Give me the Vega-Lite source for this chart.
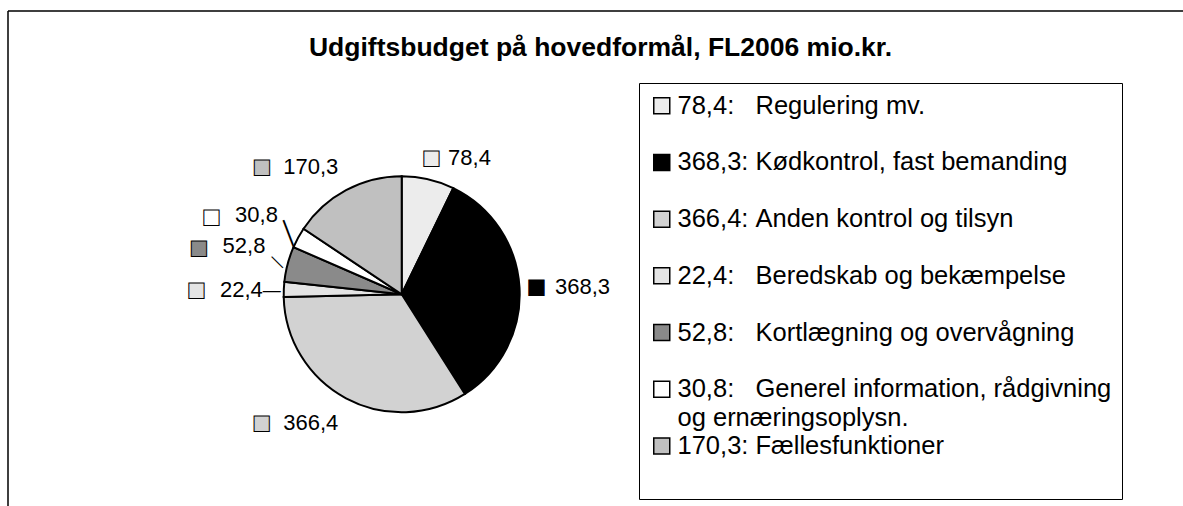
{
  "$schema": "https://vega.github.io/schema/vega-lite/v6.json",
  "width": 1183,
  "height": 506,
  "autosize": {"type": "fit", "contains": "padding"},
  "padding": {"left": 8, "top": 11, "right": 0, "bottom": 0},
  "background": "white",
  "title": {
    "text": "Udgiftsbudget på hovedformål, FL2006 mio.kr.",
    "font": "Liberation Sans",
    "fontSize": 26.5,
    "fontWeight": "bold",
    "color": "black",
    "anchor": "middle",
    "frame": "group",
    "offset": -50,
    "dx": 5
  },
  "config": {
    "font": "Liberation Sans",
    "locale": {"number": {"decimal": ",", "thousands": ".", "grouping": [3], "currency": ["", " kr."]}},
    "view": {"stroke": "black", "strokeWidth": 1.5, "strokeDash": [1175, 1670, 495, 0]},
    "style": {"guide-label": {"lineHeight": 29}}
  },
  "data": {
    "values": [
      {"nr": 1, "post": "Regulering mv.", "value": 78.4},
      {"nr": 2, "post": "Kødkontrol, fast bemanding", "value": 368.3},
      {"nr": 3, "post": "Anden kontrol og tilsyn", "value": 366.4},
      {"nr": 4, "post": "Beredskab og bekæmpelse", "value": 22.4},
      {"nr": 5, "post": "Kortlægning og overvågning", "value": 52.8},
      {"nr": 6, "post": "Generel information, rådgivning og ernæringsoplysn.", "value": 30.8},
      {"nr": 7, "post": "Fællesfunktioner", "value": 170.3}
    ]
  },
  "encoding": {
    "theta": {"field": "value", "type": "quantitative", "stack": true},
    "order": {"field": "nr", "type": "quantitative"},
    "x": {"datum": 0.33506, "type": "quantitative", "scale": {"domain": [0, 1]}, "axis": null},
    "y": {"datum": 0.5723, "type": "quantitative", "scale": {"domain": [0, 1], "reverse": true}, "axis": null}
  },
  "layer": [
    {
      "mark": {"type": "arc", "outerRadius": 118, "stroke": "black", "strokeWidth": 2},
      "encoding": {
        "color": {
          "field": "post",
          "type": "nominal",
          "scale": {
            "domain": ["Regulering mv.", "Kødkontrol, fast bemanding", "Anden kontrol og tilsyn", "Beredskab og bekæmpelse", "Kortlægning og overvågning", "Generel information, rådgivning og ernæringsoplysn.", "Fællesfunktioner"],
            "range": ["#ececec", "#000000", "#d2d2d2", "#e4e4e4", "#8a8a8a", "#ffffff", "#c0c0c0"]
          },
          "legend": {
            "title": null,
            "orient": "none",
            "legendX": 631,
            "legendY": 72,
            "direction": "vertical",
            "gridAlign": "all",
            "symbolType": "square",
            "symbolSize": 256,
            "symbolStrokeColor": "black",
            "symbolStrokeWidth": 1.5,
            "labelFont": "Liberation Sans",
            "labelFontSize": 25.5,
            "labelColor": "black",
            "labelLimit": 0,
            "labelOffset": 3,
            "rowPadding": 0.7,
            "padding": 10,
            "strokeColor": "black",
            "fillColor": "white",
            "labelExpr": "datum.value == 'Regulering mv.' ? '78,4:\u00a0\u00a0\u00a0Regulering mv.' : datum.value == 'Kødkontrol, fast bemanding' ? '368,3:\u00a0Kødkontrol, fast bemanding' : datum.value == 'Anden kontrol og tilsyn' ? '366,4:\u00a0Anden kontrol og tilsyn' : datum.value == 'Beredskab og bekæmpelse' ? '22,4:\u00a0\u00a0\u00a0Beredskab og bekæmpelse' : datum.value == 'Kortlægning og overvågning' ? '52,8:\u00a0\u00a0\u00a0Kortlægning og overvågning' : datum.value == 'Fællesfunktioner' ? ['170,3:\u00a0Fællesfunktioner', '\u00a0'] : ['30,8:\u00a0\u00a0\u00a0Generel information, rådgivning', 'og ernæringsoplysn.']"
          }
        }
      }
    },
    {
      "mark": {"type": "text", "fontSize": 22, "align": "left", "baseline": "middle", "dx": 15, "fill": "black"},
      "encoding": {
        "detail": {"field": "post"},
        "radius": {"value": 140},
        "text": {"condition": {"test": "datum.nr == 1", "field": "value", "type": "quantitative", "format": ".1f"}, "value": ""}
      }
    },
    {
      "mark": {"type": "text", "font": "DejaVu Sans", "fontSize": 20, "align": "left", "baseline": "middle", "dx": -11, "stroke": "black", "strokeWidth": 1},
      "encoding": {
        "color": {"field": "post", "type": "nominal"},
        "radius": {"value": 140},
        "text": {"condition": {"test": "datum.nr == 1", "value": "■"}, "value": ""}
      }
    },
    {
      "mark": {"type": "text", "fontSize": 22, "align": "left", "baseline": "middle", "dx": 27, "fill": "black"},
      "encoding": {
        "detail": {"field": "post"},
        "radius": {"value": 126.5},
        "text": {"condition": {"test": "datum.nr == 2", "field": "value", "type": "quantitative", "format": ".1f"}, "value": ""}
      }
    },
    {
      "mark": {"type": "text", "font": "DejaVu Sans", "fontSize": 20, "align": "left", "baseline": "middle", "dx": -1, "stroke": "black", "strokeWidth": 1},
      "encoding": {
        "color": {"field": "post", "type": "nominal"},
        "radius": {"value": 126.5},
        "text": {"condition": {"test": "datum.nr == 2", "value": "■"}, "value": ""}
      }
    },
    {
      "mark": {"type": "text", "fontSize": 22, "align": "right", "baseline": "middle", "dx": 5, "dy": 1, "fill": "black"},
      "encoding": {
        "detail": {"field": "post"},
        "radius": {"value": 145},
        "text": {"condition": {"test": "datum.nr == 3 || datum.nr == 7", "field": "value", "type": "quantitative", "format": ".1f"}, "value": ""}
      }
    },
    {
      "mark": {"type": "text", "font": "DejaVu Sans", "fontSize": 20, "align": "right", "baseline": "middle", "dx": -62, "dy": 1, "stroke": "black", "strokeWidth": 1},
      "encoding": {
        "color": {"field": "post", "type": "nominal"},
        "radius": {"value": 145},
        "text": {"condition": {"test": "datum.nr == 3 || datum.nr == 7", "value": "■"}, "value": ""}
      }
    },
    {
      "mark": {"type": "text", "fontSize": 22, "align": "right", "baseline": "middle", "dy": 2, "fill": "black"},
      "encoding": {
        "detail": {"field": "post"},
        "radius": {"value": 139},
        "text": {"condition": {"test": "datum.nr == 4", "field": "value", "type": "quantitative", "format": ".1f"}, "value": ""}
      }
    },
    {
      "mark": {"type": "text", "font": "DejaVu Sans", "fontSize": 20, "align": "right", "baseline": "middle", "dx": -57, "dy": 2, "stroke": "black", "strokeWidth": 1},
      "encoding": {
        "color": {"field": "post", "type": "nominal"},
        "radius": {"value": 139},
        "text": {"condition": {"test": "datum.nr == 4", "value": "■"}, "value": ""}
      }
    },
    {
      "mark": {"type": "text", "fontSize": 22, "align": "right", "baseline": "bottom", "fill": "black"},
      "encoding": {
        "detail": {"field": "post"},
        "radius": {"value": 141},
        "text": {"condition": {"test": "datum.nr == 5 || datum.nr == 6", "field": "value", "type": "quantitative", "format": ".1f"}, "value": ""}
      }
    },
    {
      "mark": {"type": "text", "font": "DejaVu Sans", "fontSize": 20, "align": "right", "baseline": "bottom", "dx": -57, "stroke": "black", "strokeWidth": 1},
      "encoding": {
        "color": {"field": "post", "type": "nominal"},
        "radius": {"value": 141},
        "text": {"condition": {"test": "datum.nr == 5 || datum.nr == 6", "value": "■"}, "value": ""}
      }
    },
    {
      "mark": {"type": "text", "fontSize": 18, "align": "right", "baseline": "middle", "dy": 2, "fill": "black"},
      "encoding": {
        "detail": {"field": "post"},
        "radius": {"value": 121},
        "text": {"condition": {"test": "datum.nr == 4", "value": "—"}, "value": ""}
      }
    },
    {
      "mark": {"type": "text", "align": "center", "baseline": "middle", "fill": "black"},
      "encoding": {
        "detail": {"field": "post"},
        "radius": {"value": 128},
        "angle": {"condition": {"test": "datum.nr == 5", "value": 45}, "value": 69},
        "size": {"condition": {"test": "datum.nr == 5", "value": 16}, "value": 28},
        "text": {"condition": {"test": "datum.nr == 5 || datum.nr == 6", "value": "—"}, "value": ""}
      }
    }
  ]
}
